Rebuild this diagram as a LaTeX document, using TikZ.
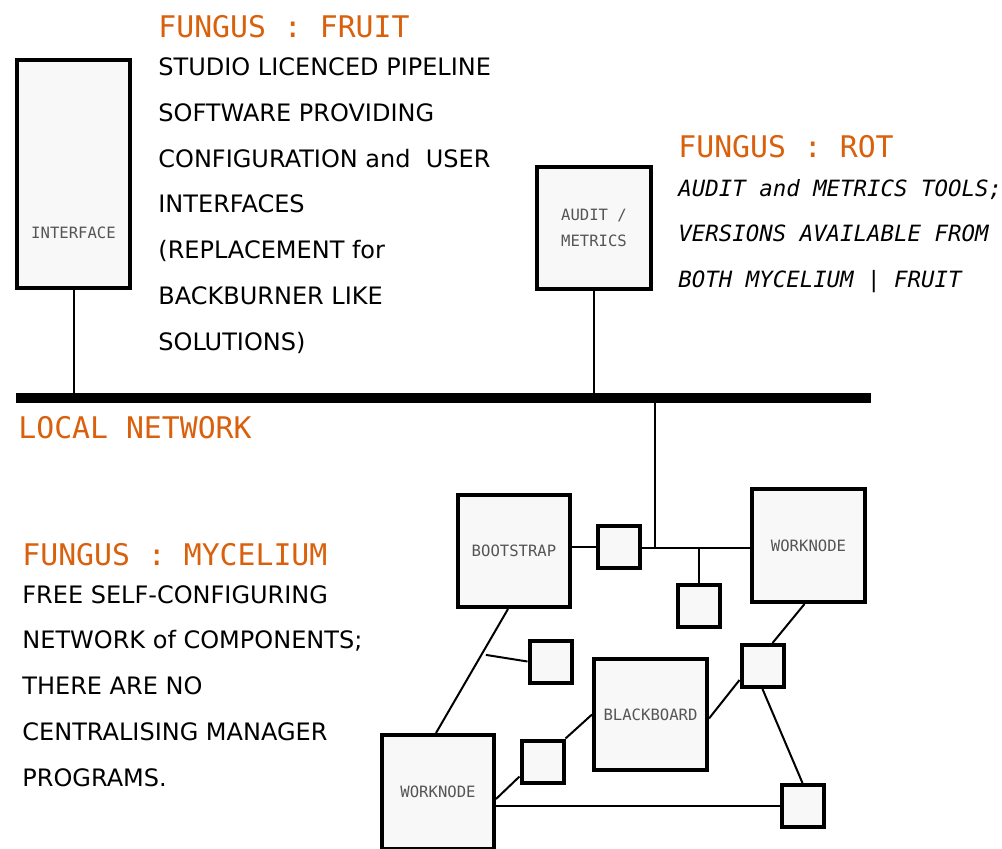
\documentclass[tikz,border=0pt]{standalone}
\usepackage{fontspec}
\setmainfont{DejaVu Sans}
\setmonofont{DejaVu Sans Mono}
\usetikzlibrary{positioning,calc}

\definecolor{fungus}{HTML}{D9600C}
\definecolor{tagtext}{HTML}{555555}
\definecolor{boxfill}{HTML}{F8F8F8}

\tikzset{
  unit/.style={draw=black,line width=2pt,fill=boxfill,inner sep=0pt,
    font=\ttfamily\fontsize{7.8}{13.3}\selectfont,text=tagtext,align=center},
  port/.style={unit,minimum width=21pt,minimum height=21pt},
  wire/.style={line width=1pt},
  heading/.style={anchor=base west,inner sep=0pt,text=fungus,font=\ttfamily\fontsize{14.9}{17}\selectfont},
  blurb/.style={anchor=base west,inner sep=0pt,align=left,font=\fontsize{12}{22.85}\selectfont},
  note/.style={anchor=base west,inner sep=0pt,align=left,font=\ttfamily\itshape\fontsize{11.2}{22.7}\selectfont}
}

\begin{document}
\begin{tikzpicture}[x=0.5pt,y=-0.5pt]
			\useasboundingbox (0,0) rectangle (1002,848);

			% front-end and audit units on the local network
			\node[unit,minimum width=56.5pt,minimum height=114pt] (iface) at (73.5,174) {};
			\node[font=\ttfamily\fontsize{7.8}{9}\selectfont,text=tagtext,inner sep=0pt] (iface-tag) at (73.5,233) {INTERFACE};
			\node[unit,minimum width=57pt,minimum height=61pt] (audit) at (594,228) {AUDIT /\\METRICS};

			\coordinate (busL) at (16,398);
			\coordinate (busR) at (871,398);
			\draw[wire] (iface.south) -- (iface.south |- busL);
			\draw[wire] (audit.south) -- (audit.south |- busL);

			% mycelium
			\node[unit,minimum width=56pt,minimum height=56pt] (boot) at (514,551) {BOOTSTRAP};
			\node[unit,minimum width=56.5pt,minimum height=56.5pt] (work1) at (808.5,545.5) {WORKNODE};
			\node[unit,minimum width=56.5pt,minimum height=55.5pt] (board) at (650.5,714.5) {BLACKBOARD};
			\node[unit,minimum width=56pt,minimum height=57pt] (work2) at (438,792) {WORKNODE};
			\node[port] (sA) at (619,547) {};
			\node[port] (sB) at (699,605.5) {};
			\node[port] (sC) at (550.5,661.5) {};
			\node[port] (sD) at (762.5,666) {};
			\node[port] (sE) at (542.5,761.5) {};
			\node[port] (sF) at (802.5,806) {};

			\coordinate (hub) at (655,548);
			\coordinate (tap) at (699,548);
			\coordinate (jn) at ($(boot.south)!0.37!(work2.north)$);

			\draw[wire] (hub |- busL) -- (hub);
			\draw[wire] (boot.east |- sA) -- (sA.west);
			\draw[wire] (sA.east |- hub) -- (hub -| work1.west);
			\draw[wire] (tap) -- (sB.north);
			\draw[wire] ([xshift=-3pt]boot.south) -- ([xshift=-1pt]work2.north);
			\draw[wire] (jn) -- (sC.west);
			\draw[wire] ([xshift=-2pt]work1.south) -- ([xshift=5pt]sD.north);
			\draw[wire] ([yshift=-2pt]board.east) -- ([yshift=-7pt]sD.west);
			\draw[wire] (sD.south) -- (sF.north);
			\draw[wire] (sE.north east) -- (board.west);
			\draw[wire] ([yshift=-3.5pt]work2.east) -- ([yshift=-7.5pt]sE.west);
			\draw[wire] (sF.west -| work2.east) -- (sF.west);

			\draw[line width=5pt] (busL) -- (busR);

			% captions (base = last line)
			\node[heading] (fruit) at (158,37) {FUNGUS : FRUIT};
			\node[blurb] (fruit-text) at (158,350) {STUDIO LICENCED PIPELINE\\SOFTWARE PROVIDING\\CONFIGURATION and\ \ USER\\INTERFACES\\(REPLACEMENT for\\BACKBURNER LIKE\\SOLUTIONS)};
			\node[heading] (rot) at (678,157) {FUNGUS : ROT};
			\node[note] (rot-text) at (678,287) {AUDIT and METRICS TOOLS;\\VERSIONS AVAILABLE FROM\\BOTH MYCELIUM | FRUIT};
			\node[heading] (lan) at (18,438) {LOCAL NETWORK};
			\node[heading] (mycel) at (22,565) {FUNGUS : MYCELIUM};
			\node[blurb] (mycel-text) at (22,786) {FREE SELF-CONFIGURING\\NETWORK of COMPONENTS;\\THERE ARE NO\\CENTRALISING MANAGER\\PROGRAMS.};
		\end{tikzpicture}
\end{document}
